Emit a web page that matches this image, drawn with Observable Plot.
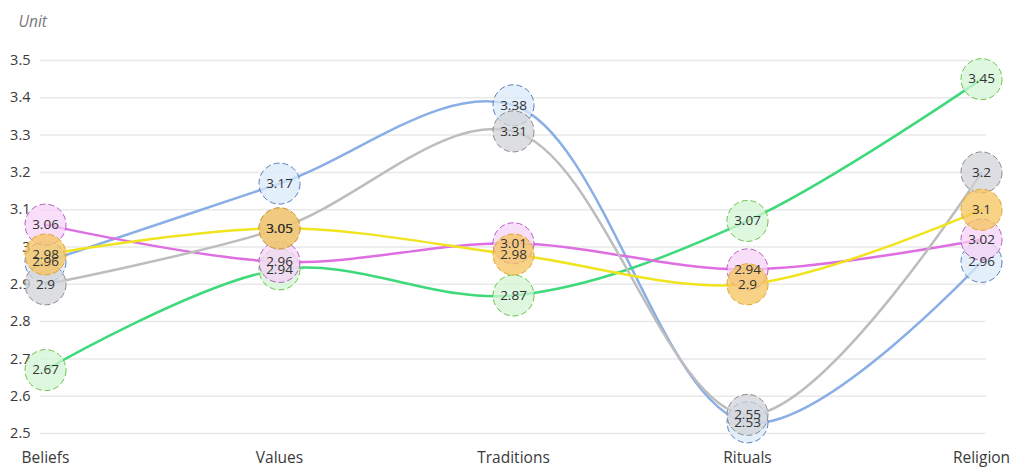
<!DOCTYPE html>
<html>
<head>
<meta charset="utf-8">
<script src="https://cdn.jsdelivr.net/npm/d3@7"></script>
<script src="https://cdn.jsdelivr.net/npm/@observablehq/plot@0.6"></script>
<style>
  html, body { margin: 0; padding: 0; background: #fff; }
</style>
</head>
<body>
<div id="chart"></div>
<script>
const categories = ["Beliefs", "Values", "Traditions", "Rituals", "Religion"];
const seriesNames = ["Blue", "Green", "Magenta", "Gray", "Yellow"];
const blueValues    = [2.96, 3.17, 3.38, 2.53, 2.96];
const greenValues   = [2.67, 2.94, 2.87, 3.07, 3.45];
const magentaValues = [3.06, 2.96, 3.01, 2.94, 3.02];
const grayValues    = [2.9, 3.05, 3.31, 2.55, 3.2];
const yellowValues  = [2.98, 3.05, 2.98, 2.9, 3.1];
const yTicks = [2.5, 2.6, 2.7, 2.8, 2.9, 3.0, 3.1, 3.2, 3.3, 3.4, 3.5];
const unitLabel = "Unit";

const lineColors   = {Blue: "#8aaee6", Green: "#3ed97a", Magenta: "#de6ee2", Gray: "#bdbdbd", Yellow: "#efe41e"};
const fillColors   = {Blue: "#d9eaf9", Green: "#d3f6d6", Magenta: "#f6d3f6", Gray: "#d2d3d8", Yellow: "#f6c35c"};
const strokeColors = {Blue: "#5b7fb8", Green: "#6cc24a", Magenta: "#b35cc4", Gray: "#8a8a8a", Yellow: "#e2a436"};

const valuesBySeries = {Blue: blueValues, Green: greenValues, Magenta: magentaValues, Gray: grayValues, Yellow: yellowValues};
const rows = seriesNames.flatMap(s => categories.map((c, i) => ({series: s, category: c, value: valuesBySeries[s][i]})));

const chart = Plot.plot({
  width: 1023,
  height: 467,
  marginTop: 60,
  marginBottom: 34,
  marginLeft: 40,
  marginRight: 37,
  style: {fontFamily: "'Open Sans', sans-serif", fontSize: "14px", color: "#3a3a3a", background: "#fff"},
  x: {type: "point", domain: categories, padding: 0, insetLeft: 5, insetRight: 5},
  y: {domain: [2.5, 3.5]},
  marks: [
    Plot.ruleY(yTicks, {stroke: "#e9e9e9", strokeWidth: 1.5}),
    Plot.axisY({ticks: yTicks, tickSize: 0, tickPadding: 10, fontSize: 14.5, fill: "#3a3a3a",
      tickFormat: d => String(+d.toFixed(1)), label: null}),
    Plot.axisX({tickSize: 0, tickPadding: 18, fontSize: 15.5, fill: "#3a3a3a", label: null}),
    Plot.text([unitLabel], {frameAnchor: "top-left", dx: -22, dy: -38, textAnchor: "start",
      lineAnchor: "middle", fontSize: 15.5, fontStyle: "italic", fill: "#777"}),
    Plot.line(rows, {x: "category", y: "value", z: "series", stroke: d => lineColors[d.series],
      strokeWidth: 2.5, curve: "catmull-rom"}),
    Plot.dot(rows, {x: "category", y: "value", r: 20.5,
      fill: d => fillColors[d.series], fillOpacity: 0.75,
      stroke: d => strokeColors[d.series], strokeWidth: 1, strokeDasharray: "6,3"}),
    Plot.text(rows, {x: "category", y: "value", text: d => String(d.value), fontSize: 13.5, fill: "#333"})
  ]
});
document.getElementById("chart").appendChild(chart);
</script>
</body>
</html>
